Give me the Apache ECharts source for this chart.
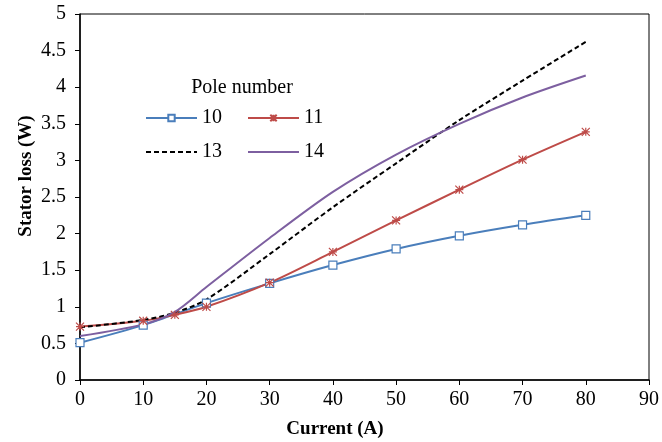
<!DOCTYPE html>
<html>
<head>
<meta charset="utf-8">
<script src="https://cdn.jsdelivr.net/npm/echarts@6/dist/echarts.min.js"></script>
<style>
  html, body { margin: 0; padding: 0; background: #fff; }
  #chart { width: 662px; height: 442px; }
</style>
</head>
<body>
<div id="chart"></div>
<script>
// 数据: 电流 (A) -> 定子损耗 (W)
var poles10 = [[0, 0.51], [10, 0.75], [20, 1.05], [30, 1.32], [40, 1.57], [50, 1.79], [60, 1.97], [70, 2.12], [80, 2.25]];
var poles11 = [[0, 0.73], [10, 0.81], [15, 0.89], [20, 1.0], [30, 1.33], [40, 1.75], [50, 2.18], [60, 2.6], [70, 3.01], [80, 3.39]];
var poles13 = [[0, 0.72], [10, 0.82], [15, 0.92], [20, 1.1], [30, 1.72], [40, 2.36], [50, 2.96], [60, 3.55], [70, 4.09], [80, 4.62]];
var poles14 = [[0, 0.6], [10, 0.76], [15, 0.93], [20, 1.27], [30, 1.94], [40, 2.57], [50, 3.08], [60, 3.5], [70, 3.86], [80, 4.16]];
var seriesNames = ["10", "11", "13", "14"];
var colors = ["#4a7ebb", "#be4b48", "#000000", "#7d5fa0"];

var font = "'Liberation Serif', 'Times New Roman', serif";
var star = "path://M0,0L10,10M10,0L0,10M5,0L5,10M0,5L10,5";
var legendText = { fontFamily: font, fontSize: 20, color: "#000" };
var noMarker = { color: "transparent", borderWidth: 0 };

var chart = echarts.init(document.getElementById("chart"));
chart.setOption({
  animation: false,
  grid: {
    left: 80,
    right: 10,
    top: 14,
    bottom: 62,
    show: true,
    borderColor: "#000",
    borderWidth: 1
  },
  title: {
    text: "Pole number",
    left: 242,
    top: 78,
    padding: 0,
    textAlign: "center",
    textStyle: { fontFamily: font, fontSize: 20, fontWeight: "normal", color: "#000" }
  },
  legend: [
    {
      data: ["10", "11"],
      left: 145,
      top: 108,
      padding: 0,
      itemWidth: 51,
      itemHeight: 8,
      itemGap: 25,
      textStyle: legendText
    },
    {
      data: [{ name: "13", itemStyle: noMarker }, { name: "14", itemStyle: noMarker }],
      left: 145,
      top: 142,
      padding: 0,
      itemWidth: 51,
      itemHeight: 8,
      itemGap: 25,
      textStyle: legendText
    }
  ],
  graphic: [
    {
      type: "text",
      x: 335,
      y: 429,
      style: {
        text: "Current (A)",
        fontFamily: font,
        fontSize: 19,
        fontWeight: "bold",
        fill: "#000",
        align: "center",
        verticalAlign: "middle"
      }
    },
    {
      type: "text",
      x: 26,
      y: 176,
      rotation: Math.PI / 2,
      style: {
        text: "Stator loss (W)",
        fontFamily: font,
        fontSize: 19,
        fontWeight: "bold",
        fill: "#000",
        align: "center",
        verticalAlign: "middle"
      }
    }
  ],
  xAxis: {
    type: "value",
    min: 0,
    max: 90,
    interval: 10,
    axisLine: { show: true, lineStyle: { color: "#000", width: 1.5 } },
    axisTick: { show: true, length: 5, lineStyle: { color: "#000" } },
    axisLabel: { fontFamily: font, fontSize: 20, color: "#000", margin: 10 },
    splitLine: { show: false }
  },
  yAxis: {
    type: "value",
    min: 0,
    max: 5,
    interval: 0.5,
    axisLine: { show: true, lineStyle: { color: "#000", width: 1.5 } },
    axisTick: { show: true, length: 5, lineStyle: { color: "#000" } },
    axisLabel: { fontFamily: font, fontSize: 20, color: "#000", margin: 14 },
    splitLine: { show: false }
  },
  series: [
    {
      name: seriesNames[0],
      type: "line",
      smooth: 0.3,
      data: poles10,
      symbol: "rect",
      symbolSize: 8,
      itemStyle: { color: "#fff", borderColor: colors[0], borderWidth: 1.2 },
      lineStyle: { color: colors[0], width: 2 }
    },
    {
      name: seriesNames[1],
      type: "line",
      smooth: 0.3,
      data: poles11,
      symbol: star,
      symbolSize: 8,
      itemStyle: { color: "none", borderColor: colors[1], borderWidth: 1.2 },
      lineStyle: { color: colors[1], width: 2 }
    },
    {
      name: seriesNames[2],
      type: "line",
      smooth: 0.3,
      data: poles13,
      showSymbol: false,
      symbol: "none",
      itemStyle: { color: colors[2] },
      lineStyle: { color: colors[2], width: 2, type: [5, 3] }
    },
    {
      name: seriesNames[3],
      type: "line",
      smooth: 0.3,
      data: poles14,
      showSymbol: false,
      symbol: "none",
      itemStyle: { color: colors[3] },
      lineStyle: { color: colors[3], width: 2 }
    }
  ]
});
</script>
</body>
</html>
